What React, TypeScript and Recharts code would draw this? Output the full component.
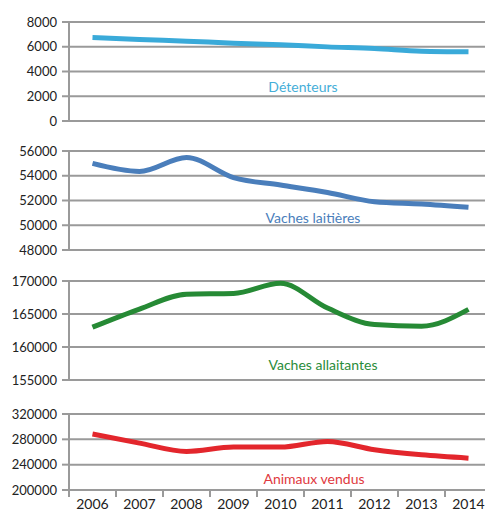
import { LineChart, Line, XAxis, YAxis, CartesianGrid } from 'recharts';

const years = ['2006', '2007', '2008', '2009', '2010', '2011', '2012', '2013', '2014'];
const detenteurs = [6750, 6590, 6450, 6290, 6160, 5990, 5860, 5640, 5590];
const vachesLaitieres = [55000, 54350, 55480, 53850, 53250, 52650, 51900, 51720, 51450];
const vachesAllaitantes = [163000, 165750, 168000, 168100, 169650, 165900, 163400, 163150, 165700];
const animauxVendus = [288300, 274000, 260800, 267700, 267700, 276700, 263500, 255500, 250300];

const ticksDet = [0, 2000, 4000, 6000, 8000];
const ticksLait = [48000, 50000, 52000, 54000, 56000];
const ticksAllait = [155000, 160000, 165000, 170000];
const ticksVendus = [200000, 240000, 280000, 320000];

const FONT = 'Lato, "Open Sans", sans-serif';
const GRID = '#9a9a9a';
const CHART_W = 500;
const Y_W = 69;
const RIGHT = 8;
const BAND = (CHART_W - Y_W - RIGHT) / years.length;

const toRows = (values: number[]) => years.map((year, i) => ({ year, value: values[i] }));

type PanelProps = {
  values: number[];
  ticks: number[];
  color: string;
  height: number;
  top: number;
  bottom: number;
  showX?: boolean;
};

const YearTick = (props: any) => {
  const { x, y, payload, index } = props;
  const left = x - BAND / 2;
  return (
    <g>
      <line x1={left} y1={y - 7} x2={left} y2={y - 1} stroke={GRID} strokeWidth={2} />
      {index === years.length - 1 && (
        <line x1={x + BAND / 2} y1={y - 7} x2={x + BAND / 2} y2={y - 1} stroke={GRID} strokeWidth={2} />
      )}
      <text x={x} y={y + 11} textAnchor="middle" fill="#222" fontSize={14} fontFamily={FONT}>
        {payload.value}
      </text>
    </g>
  );
};

const Panel = ({ values, ticks, color, height, top, bottom, showX }: PanelProps) => (
  <LineChart
    width={CHART_W}
    height={height}
    data={toRows(values)}
    margin={{ top, right: RIGHT, left: 0, bottom }}
  >
    <CartesianGrid vertical={false} stroke={GRID} strokeWidth={2} />
    <XAxis
      dataKey="year"
      hide={!showX}
      padding={{ left: BAND / 2, right: BAND / 2 }}
      axisLine={{ stroke: GRID, strokeWidth: 2 }}
      tickLine={false}
      tick={<YearTick />}
      height={21}
      interval={0}
    />
    <YAxis
      width={Y_W}
      domain={[ticks[0], ticks[ticks.length - 1]]}
      ticks={ticks}
      interval={0}
      axisLine={{ stroke: GRID, strokeWidth: 2 }}
      tickLine={{ stroke: GRID, strokeWidth: 2 }}
      tickSize={7}
      tickMargin={5}
      tick={{ fill: '#222', fontSize: 13, fontFamily: FONT }}
    />
    <Line
      type="monotone"
      dataKey="value"
      stroke={color}
      strokeWidth={5}
      dot={false}
      isAnimationActive={false}
    />
  </LineChart>
);

const labelStyle = (x: number, y: number, color: string): React.CSSProperties => ({
  position: 'absolute',
  left: x,
  top: y,
  transform: 'translate(-50%, -50%)',
  color,
  fontFamily: FONT,
  fontSize: 14,
  whiteSpace: 'nowrap',
});

export default function App() {
  return (
    <div
      style={{
        position: 'absolute',
        left: 0,
        top: 0,
        width: 485,
        height: 511,
        overflow: 'hidden',
        background: '#fff',
      }}
    >
      <Panel values={detenteurs} ticks={ticksDet} color="#3aaad9" height={130} top={22} bottom={9} />
      <Panel values={vachesLaitieres} ticks={ticksLait} color="#4a7ebb" height={130} top={21} bottom={10} />
      <Panel values={vachesAllaitantes} ticks={ticksAllait} color="#268a35" height={130} top={21} bottom={10} />
      <Panel values={animauxVendus} ticks={ticksVendus} color="#e3262c" height={121} top={24} bottom={0} showX />
      <div style={labelStyle(303, 86, '#45aed8')}>Détenteurs</div>
      <div style={labelStyle(313, 217, '#4a7ebb')}>Vaches laitières</div>
      <div style={labelStyle(323, 364, '#2a8c3a')}>Vaches allaitantes</div>
      <div style={labelStyle(314, 478, '#e0393e')}>Animaux vendus</div>
    </div>
  );
}
